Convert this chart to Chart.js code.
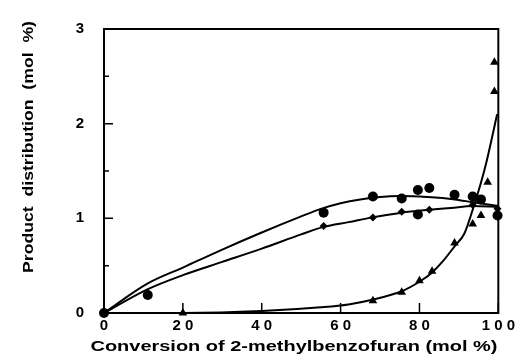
<!DOCTYPE html>
<html>
<head>
<meta charset="UTF-8">
<title>Product distribution</title>
<script src="https://cdn.jsdelivr.net/npm/chart.js@4/dist/chart.umd.min.js"></script>
<style>
  html, body { margin: 0; padding: 0; background: #fff; }
  #wrap { width: 519px; height: 358px; }
</style>
</head>
<body>
<div id="wrap"><canvas id="canvas"></canvas></div>
<script>
// measured points (conversion %, mol %)
var circlePts = [
  {x:0, y:0}, {x:11.1, y:0.19}, {x:55.7, y:1.06}, {x:68.2, y:1.23}, {x:75.5, y:1.21},
  {x:79.6, y:1.30}, {x:79.6, y:1.04}, {x:82.5, y:1.32}, {x:88.9, y:1.25}, {x:93.5, y:1.23},
  {x:95.6, y:1.20}, {x:99.8, y:1.03}
];
var diamondPts = [
  {x:0, y:0}, {x:55.7, y:0.92}, {x:68.2, y:1.01}, {x:75.5, y:1.07}, {x:82.5, y:1.09},
  {x:93.5, y:1.14}, {x:99.8, y:1.10}
];
var trianglePts = [
  {x:20, y:0}, {x:68.2, y:0.13}, {x:75.5, y:0.22}, {x:80, y:0.34}, {x:83.2, y:0.44},
  {x:88.9, y:0.74}, {x:93.5, y:0.94}, {x:95.6, y:1.03}, {x:97.3, y:1.38},
  {x:99.0, y:2.34}, {x:99.0, y:2.65}
];

// fitted curves
var upperCurve = [
  {x:0, y:0}, {x:11, y:0.31}, {x:20, y:0.48}, {x:30, y:0.67}, {x:40, y:0.85},
  {x:50, y:1.02}, {x:55, y:1.10}, {x:60, y:1.16}, {x:65, y:1.20}, {x:70, y:1.225},
  {x:75, y:1.235}, {x:82, y:1.225}, {x:89, y:1.20}, {x:93.5, y:1.17}, {x:100, y:1.13}
];
var lowerCurve = [
  {x:0, y:0}, {x:11, y:0.25}, {x:20, y:0.40}, {x:30, y:0.54}, {x:40, y:0.68},
  {x:50, y:0.83}, {x:55.7, y:0.91}, {x:62, y:0.96}, {x:68, y:1.01}, {x:75.5, y:1.06},
  {x:82.5, y:1.09}, {x:88, y:1.11}, {x:93.5, y:1.13}, {x:100, y:1.12}
];
var triangleCurve = [
  {x:0, y:0}, {x:20, y:0}, {x:40, y:0.02}, {x:55, y:0.06}, {x:62, y:0.09},
  {x:68, y:0.14}, {x:75.5, y:0.23}, {x:80, y:0.33}, {x:83, y:0.42}, {x:86, y:0.55},
  {x:89, y:0.71}, {x:91.4, y:0.84}, {x:93.5, y:1.09}, {x:95.2, y:1.32},
  {x:96.9, y:1.58}, {x:99.7, y:2.10}
];

var xTicks = [0, 20, 40, 60, 80, 100];
var yTicks = [0, 1, 2, 3];
var yMinorTicks = [0.5, 1.5, 2.5];

var xTitle = 'Conversion of 2-methylbenzofuran (mol %)';
var yTitle = 'Product  distribution  (mol  %)';

var FONT = '"Liberation Sans", Arial, sans-serif';

function curve(data) {
  return {
    type: 'scatter', data: data, showLine: true, pointRadius: 0,
    borderColor: '#000', borderWidth: 2, cubicInterpolationMode: 'monotone', fill: false
  };
}
function marks(data, style, r) {
  return {
    type: 'scatter', data: data, pointStyle: style, pointRadius: r,
    backgroundColor: '#000', borderColor: '#000', borderWidth: 0, clip: false
  };
}

// draw bold text stretched sideways to a measured length
function wideText(ctx, text, size, width, cx, cy) {
  ctx.font = 'bold ' + size + 'px ' + FONT;
  var w = ctx.measureText(text).width;
  ctx.save();
  ctx.translate(cx, cy);
  ctx.scale(width / w, 1);
  ctx.fillText(text, 0, 0);
  ctx.restore();
}

var frame = {
  id: 'frame',
  afterDatasetsDraw: function(chart) {
    var ctx = chart.ctx, a = chart.chartArea, x = chart.scales.x, y = chart.scales.y;
    ctx.save();
    ctx.strokeStyle = '#000';
    ctx.lineWidth = 2;
    ctx.strokeRect(a.left, a.top, a.right - a.left, a.bottom - a.top);
    ctx.lineWidth = 1.5;
    ctx.beginPath();
    yTicks.concat(yMinorTicks).forEach(function(v) {
      var p = y.getPixelForValue(v);
      var len = (v % 1 === 0) ? 9 : 5;
      ctx.moveTo(a.left, p); ctx.lineTo(a.left + len, p);
    });
    xTicks.forEach(function(v) {
      var p = x.getPixelForValue(v);
      ctx.moveTo(p, a.bottom); ctx.lineTo(p, a.bottom - 10);
    });
    ctx.stroke();

    ctx.fillStyle = '#000';
    ctx.textBaseline = 'middle';
    ctx.textAlign = 'center';
    wideText(ctx, xTitle, 15, 407, 294, 347);

    ctx.translate(29, 147);
    ctx.rotate(-Math.PI / 2);
    wideText(ctx, yTitle, 15, 252, 0, 0);
    ctx.restore();
  }
};

window.onload = function() {
  var ctx = document.getElementById('canvas').getContext('2d');
  window.myChart = new Chart(ctx, {
    type: 'scatter',
    data: {
      datasets: [
        curve(upperCurve),
        curve(lowerCurve),
        curve(triangleCurve),
        marks(circlePts, 'circle', 5),
        marks(diamondPts, 'rectRot', 4),
        marks(trianglePts, 'triangle', 5)
      ]
    },
    options: {
      responsive: true,
      maintainAspectRatio: false,
      animation: false,
      layout: { padding: { top: 14, right: 20, left: 0, bottom: 0 } },
      plugins: { legend: { display: false }, tooltip: { enabled: false } },
      scales: {
        x: {
          type: 'linear', min: 0, max: 100,
          grid: { display: false, drawTicks: false }, border: { display: false },
          afterBuildTicks: function(s) { s.ticks = xTicks.map(function(v) { return {value: v}; }); },
          afterFit: function(s) { s.height = 45; },
          ticks: {
            padding: 4, color: '#000', maxRotation: 0, autoSkip: false,
            font: { family: FONT, size: 15, weight: 'bold' },
            callback: function(v) { return String(v).split('').join(' '); }
          }
        },
        y: {
          type: 'linear', min: 0, max: 3,
          grid: { display: false, drawTicks: false }, border: { display: false },
          afterBuildTicks: function(s) { s.ticks = yTicks.map(function(v) { return {value: v}; }); },
          afterFit: function(s) { s.width = 104; },
          ticks: {
            padding: 20, color: '#000',
            font: { family: FONT, size: 15, weight: 'bold' }
          }
        }
      }
    },
    plugins: [frame]
  });
};
</script>
</body>
</html>
